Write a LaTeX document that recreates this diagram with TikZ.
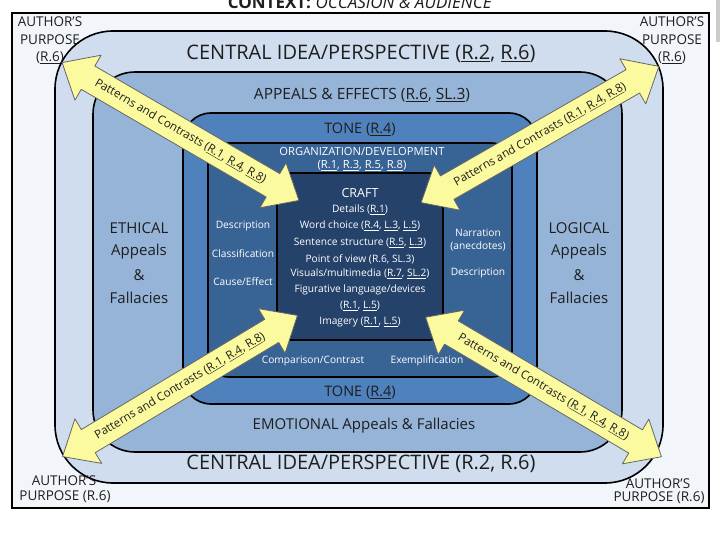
\documentclass[tikz,border=0pt]{standalone}
\usepackage{fontspec}
\setmainfont{Open Sans}
\definecolor{bgc}{HTML}{F2F6FB}
\definecolor{lone}{HTML}{CFDDEE}
\definecolor{ltwo}{HTML}{96B4D8}
\definecolor{lthree}{HTML}{4F81BD}
\definecolor{lfour}{HTML}{386395}
\definecolor{lfive}{HTML}{25426A}
\definecolor{yel}{HTML}{FBFA9F}
\definecolor{ink}{HTML}{1E1E1E}
\newcommand{\ul}[1]{\underline{#1}}
\newcommand{\fsz}[1]{\fontsize{#1}{#1}\selectfont}
\newcommand{\blockarrow}[2]{%
  \begin{scope}[shift={#1}, rotate=#2]
    \draw[arrowsty] (-137,0) -- (-107,-26) -- (-107,-13.5) -- (107,-13.5) -- (107,-26)
      -- (137,0) -- (107,26) -- (107,13.5) -- (-107,13.5) -- (-107,26) -- cycle;
  \end{scope}}
\begin{document}
\begin{tikzpicture}[x=1pt,y=-1pt,
  layer/.style={draw=black, line width=1.6pt},
  arrowsty/.style={fill=yel, draw=black!60, line width=0.8pt, line join=round},
  dk/.style={text=ink, inner sep=0pt},
  wt/.style={text=white, inner sep=0pt},
  arrowtext/.style={text=ink, inner sep=0pt, font=\fsz{11.6}}]
\useasboundingbox (0,0) rectangle (720,540);
\fill[white] (0,0) rectangle (720,540);
% gray bar at right edge
\fill[black!20] (716,0) rectangle (720,42);
% outer frame
\draw[fill=bgc, line width=2pt] (12,13) rectangle (709,508);
% levels
\draw[layer, fill=lone, rounded corners=58pt] (55,31) rectangle (663,483);
\draw[layer, fill=ltwo, rounded corners=42pt] (93,72) rectangle (622,452);
\draw[layer, fill=lthree, rounded corners=28pt] (183,113) rectangle (537,404);
\draw[layer, fill=lfour, rounded corners=20pt] (208,143) rectangle (512,377);
\draw[layer, fill=lfive, rounded corners=13pt] (277,173) rectangle (443,340);

% title
\node[dk, anchor=base] (title) at (360,8.5) {\fsz{17}\textbf{CONTEXT:} \textit{OCCASION \& AUDIENCE}};

% author's purpose
\begin{scope}[every node/.style={dk, font=\fsz{13.5}}]
\node (tl1) at (50,22) {AUTHOR'S};
\node (tl2) at (50,40) {PURPOSE};
\node (tl3) at (50,58) {(\ul{R.6})};
\node (tr1) at (672,22) {AUTHOR'S};
\node (tr2) at (672,40) {PURPOSE};
\node (tr3) at (672,58) {(\ul{R.6})};
\node (bl1) at (64,481) {AUTHOR'S};
\node (bl2) at (65,497) {PURPOSE (R.6)};
\node (br1) at (658,484) {AUTHOR'S};
\node (br2) at (659,498) {PURPOSE (R.6)};
\end{scope}

% level texts
\node[dk, font=\fsz{20}] (cit) at (361,54) {CENTRAL IDEA/PERSPECTIVE (\ul{R.2}, \ul{R.6})};
\node[dk, font=\fsz{20}] (cib) at (361,464) {CENTRAL IDEA/PERSPECTIVE (R.2, R.6)};
\node[dk, font=\fsz{15.5}] (app) at (362,95) {APPEALS \& EFFECTS (\ul{R.6}, \ul{SL.3})};
\node[dk, font=\fsz{14.5}] (tonet) at (360,129) {TONE (\ul{R.4})};
\node[dk, font=\fsz{14.5}] (toneb) at (360,392) {TONE (\ul{R.4})};
\node[wt, font=\fsz{11.2}] (org1) at (362,151) {ORGANIZATION/DEVELOPMENT};
\node[wt, font=\fsz{11.2}] (org2) at (362,166) {(\ul{R.1}, \ul{R.3}, \ul{R.5}, \ul{R.8})};

% craft
\begin{scope}[every node/.style={wt, font=\fsz{10.2}}]
\node[font=\fsz{12.5}] (craft) at (360,193) {CRAFT};
\node (c1) at (360,210) {Details (\ul{R.1})};
\node (c2) at (360,226) {Word choice (\ul{R.4}, \ul{L.3}, \ul{L.5})};
\node (c3) at (360,243) {Sentence structure (\ul{R.5}, \ul{L.3})};
\node (c4) at (360,259) {Point of view (R.6, SL.3)};
\node (c5) at (360,274) {Visuals/multimedia (\ul{R.7}, \ul{SL.2})};
\node (c6) at (360,290) {Figurative language/devices};
\node (c7) at (360,306) {(\ul{R.1}, \ul{L.5})};
\node (c8) at (360,322) {Imagery (\ul{R.1}, \ul{L.5})};
% organization patterns
\node (o1) at (243,226) {Description};
\node (o2) at (243,254) {Classification};
\node (o3) at (243,282) {Cause/Effect};
\node (o4) at (478,233) {Narration};
\node (o5) at (478,246) {(anecdotes)};
\node (o6) at (478,273) {Description};
\node (o7) at (313,361) {Comparison/Contrast};
\node (o8) at (427,361) {Exemplification};
\end{scope}

% appeals
\begin{scope}[every node/.style={dk, font=\fsz{15}}]
\node (e1) at (139,228) {ETHICAL};
\node (e2) at (139,252) {Appeals};
\node (e3) at (139,275) {\&};
\node (e4) at (139,298) {Fallacies};
\node (l1) at (579,228) {LOGICAL};
\node (l2) at (579,252) {Appeals};
\node (l3) at (579,275) {\&};
\node (l4) at (579,298) {Fallacies};
\node (emo) at (364,426) {EMOTIONAL Appeals \& Fallacies};
\end{scope}

% arrows
\blockarrow{(180.5,131.5)}{-30.2}
\blockarrow{(540,134.5)}{29.8}
\blockarrow{(180,386)}{31}
\blockarrow{(543.5,387)}{-30.6}
\node[arrowtext, rotate=-30.2] (ptl) at (180.5,131.5) {Patterns and Contrasts (\ul{R.1}, \ul{R.4}, \ul{R.8})};
\node[arrowtext, rotate=29.8] (ptr) at (540,134.5) {Patterns and Contrasts (\ul{R.1}, \ul{R.4}, \ul{R.8})};
\node[arrowtext, rotate=31] (pbl) at (180,386) {Patterns and Contrasts (\ul{R.1}, \ul{R.4}, \ul{R.8})};
\node[arrowtext, rotate=-30.6] (pbr) at (543.5,387) {Patterns and Contrasts (\ul{R.1}, \ul{R.4}, \ul{R.8})};
\end{tikzpicture}
\end{document}
